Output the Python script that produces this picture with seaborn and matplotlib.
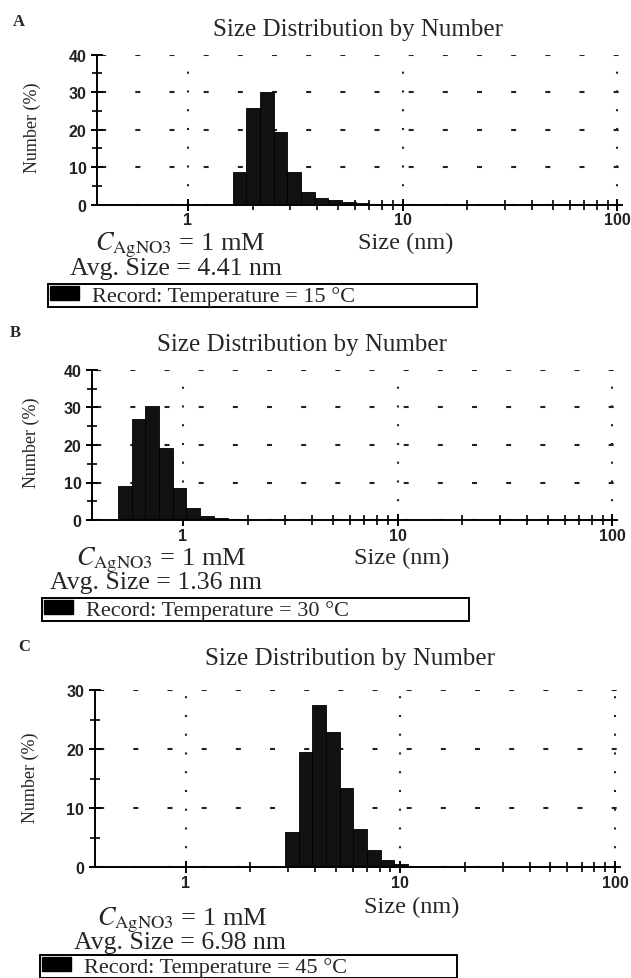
import numpy as np
import matplotlib
matplotlib.use("Agg")
import matplotlib.pyplot as plt
import seaborn as sns
from matplotlib.patches import Patch
from matplotlib.ticker import FixedLocator, FixedFormatter, NullFormatter

# size classes (nm, Zetasizer grid) and number %
size_15 = [1.736, 2.010, 2.328, 2.696, 3.122, 3.615, 4.187, 4.849, 5.615, 6.503, 7.531, 8.721]
num_15 = [8.7, 25.8, 30.0, 19.3, 8.7, 3.5, 1.8, 1.2, 0.6, 0.35, 0.2, 0.1]

size_30 = [0.5365, 0.6213, 0.7195, 0.8332, 0.9649, 1.117, 1.294, 1.499, 1.736, 2.010]
num_30 = [9.1, 27.0, 30.5, 19.1, 8.6, 3.2, 1.0, 0.5, 0.25, 0.1]

size_45 = [3.122, 3.615, 4.187, 4.849, 5.615, 6.503, 7.531, 8.721, 10.10, 11.70, 13.54]
num_45 = [5.9, 19.5, 27.4, 22.8, 13.4, 6.5, 2.9, 1.2, 0.55, 0.25, 0.12]

panel_letters = ["A", "B", "C"]
temperatures = ["15", "30", "45"]
avg_sizes = ["4.41", "1.36", "6.98"]
y_max = [40, 40, 30]
x_ticks = [1, 10, 100]
x_tick_labels = ["1", "10", "100"]

sns.set_style("white")
plt.rcParams["font.family"] = ["Liberation Serif", "DejaVu Serif"]
plt.rcParams["mathtext.fontset"] = "stix"

W, H = 631, 979
fig = plt.figure(figsize=(W / 100, H / 100), dpi=100)


def fx(px):
    return px / W


def fy(py):
    return 1 - py / H


# pixel layout of each panel: axes box, label positions
layout = [
    dict(ax=(97, 55.7, 205.7), letter=(13, 22), title=(358, 30), xlab=(406, 243),
         ylab=(32, 128), conc=(95, 245), avg=(70, 269), leg=(48, 477, 285, 303)),
    dict(ax=(92, 371, 521), letter=(10, 333), title=(302, 345), xlab=(402, 558),
         ylab=(31, 443), conc=(76, 560), avg=(50, 583), leg=(42, 469, 599, 619)),
    dict(ax=(94.6, 691, 868), letter=(18, 647), title=(350, 659), xlab=(412, 907),
         ylab=(30, 778), conc=(97, 920), avg=(74, 943), leg=(40, 457, 956, 976)),
]

sizes = [size_15, size_30, size_45]
nums = [num_15, num_30, num_45]
step = 0.0637  # log10 width of one size class

for i in range(3):
    L = layout[i]
    left, top, bottom = L["ax"]
    ax = fig.add_axes([fx(left), fy(bottom), 525 / W, (bottom - top) / H])

    lo = np.log10(sizes[i][0]) - step / 2
    hi = np.log10(sizes[i][-1]) + step / 2
    sns.histplot(x=sizes[i], weights=nums[i], bins=len(sizes[i]), binrange=(lo, hi),
                 log_scale=True, ax=ax, color="#111111", edgecolor="black",
                 linewidth=0.6, alpha=1)

    ax.set_xlim(0.377, 105)
    ax.set_ylim(0, y_max[i])
    ax.xaxis.set_major_locator(FixedLocator(x_ticks))
    ax.xaxis.set_major_formatter(FixedFormatter(x_tick_labels))
    ax.xaxis.set_minor_locator(FixedLocator([2, 3, 4, 5, 6, 7, 8, 9, 20, 30, 40, 50, 60, 70, 80, 90]))
    ax.xaxis.set_minor_formatter(NullFormatter())
    ax.set_yticks(np.arange(0, y_max[i] + 1, 10))
    ax.yaxis.set_minor_locator(FixedLocator(np.arange(5, y_max[i], 10)))

    ax.tick_params(which="both", bottom=True, left=True)
    ax.tick_params(which="major", direction="inout", length=9, width=1.4, color="black")
    ax.tick_params(which="minor", direction="inout", length=7, width=1.2, color="black")
    ax.tick_params(axis="x", which="major", pad=1)
    ax.tick_params(axis="y", which="major", pad=3)
    for lab in ax.get_xticklabels() + ax.get_yticklabels():
        lab.set_fontfamily("Liberation Sans")
        lab.set_fontweight("bold")
        lab.set_fontsize(11.5)
        lab.set_color("#222222")

    for s in ["top", "right"]:
        ax.spines[s].set_visible(False)
    for s in ["left", "bottom"]:
        ax.spines[s].set_linewidth(1.4)
        ax.spines[s].set_color("black")

    ax.yaxis.grid(True, which="major", linestyle=(14.4, (2.4, 14)), linewidth=1.5, color="#222222")
    ax.xaxis.grid(True, which="major", linestyle=(0, (1, 8)), linewidth=1.5, color="#222222")

    # axis labels placed where they sit in the figure
    h_ax = bottom - top
    ax.set_xlabel("Size (nm)", fontsize=17.5)
    ax.xaxis.set_label_coords((L["xlab"][0] - left) / 525, -(L["xlab"][1] - bottom) / h_ax)
    ax.xaxis.label.set_va("center")
    ax.set_ylabel("Number (%)", fontsize=13)
    ax.yaxis.set_label_coords((L["ylab"][0] - left) / 525, (bottom - L["ylab"][1]) / h_ax)
    ax.yaxis.label.set_va("center")

    fig.text(fx(L["letter"][0]), fy(L["letter"][1]), panel_letters[i], fontsize=12,
             fontweight="bold", ha="left", va="center")
    fig.text(fx(L["title"][0]), fy(L["title"][1]), "Size Distribution by Number",
             fontsize=18, ha="center", va="center")
    fig.text(fx(L["conc"][0]), fy(L["conc"][1]), r"$C_{\mathrm{AgNO3}}$ = 1 mM",
             fontsize=19, ha="left", va="center")
    fig.text(fx(L["avg"][0]), fy(L["avg"][1]), f"Avg. Size = {avg_sizes[i]} nm",
             fontsize=18.5, ha="left", va="center")

    x0, x1, y0, y1 = L["leg"]
    leg = ax.legend(handles=[Patch(facecolor="black", edgecolor="black")],
                    labels=[f"Record: Temperature = {temperatures[i]} \u00b0C"],
                    loc="upper left", mode="expand",
                    bbox_to_anchor=(fx(x0), fy(y1), (x1 - x0) / W, (y1 - y0) / H),
                    bbox_transform=fig.transFigure, borderaxespad=0,
                    frameon=True, fancybox=False, framealpha=1, edgecolor="black",
                    borderpad=0.08, handlelength=1.3, handleheight=0.6,
                    handletextpad=0.6, prop={"family": "Liberation Serif", "size": 16})
    leg.get_frame().set_linewidth(1.4)

fig.savefig("out.png", dpi=100)
